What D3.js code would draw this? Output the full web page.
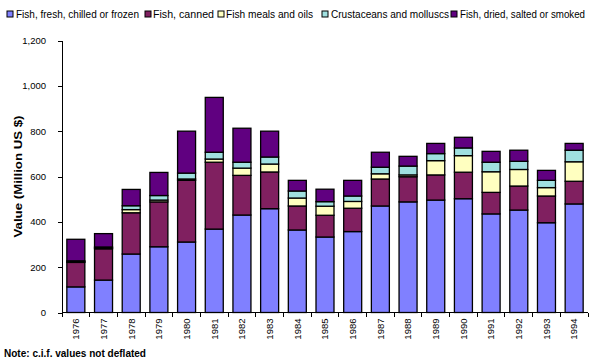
<!DOCTYPE html>
<html>
<head>
<meta charset="utf-8">
<script src="https://cdn.jsdelivr.net/npm/d3@7"></script>
<style>
  body { margin: 0; background: #fff; }
  svg { display: block; }
  text { font-family: "Liberation Sans", Arial, sans-serif; fill: #000; }
  .axis path, .axis line { stroke: #000; shape-rendering: crispEdges; }
</style>
</head>
<body>
<div id="chart"></div>
<script>
// values in million US $
var years = ["1976","1977","1978","1979","1980","1981","1982","1983","1984","1985",
             "1986","1987","1988","1989","1990","1991","1992","1993","1994"];
var fresh  = [113,143,258,290,311,368,430,458,364,333,357,470,488,496,502,435,452,396,479];
var canned = [108,138,182,198,272,295,175,162,106,96,103,119,111,111,117,95,106,118,100];
var meals  = [3,4,14,8,6,14,32,35,35,40,30,23,8,63,73,91,73,37,86];
var crust  = [4,4,17,20,26,30,26,31,31,20,24,29,39,31,34,42,36,32,51];
var dried  = [95,59,72,102,185,242,150,114,47,55,69,66,43,45,47,48,49,44,30];

var seriesNames = ["Fish, fresh, chilled or frozen","Fish, canned","Fish meals and oils",
                   "Crustaceans and molluscs","Fish, dried, salted or smoked"];
var seriesColours = ["#8080ff","#802060","#ffffc0","#a0e0e0","#600080"];
var yTicks = [0,200,400,600,800,1000,1200];

var width = 592, height = 361;
var plot = {left: 62, right: 588, top: 40.5, bottom: 312.5};

var svg = d3.select("#chart").append("svg")
  .attr("width", width)
  .attr("height", height);

// build rows for the stack
var keys = ["fresh","canned","meals","crust","dried"];
var rows = years.map(function(y, i) {
  return {year: y, fresh: fresh[i], canned: canned[i], meals: meals[i], crust: crust[i], dried: dried[i]};
});
var stacked = d3.stack().keys(keys)(rows);

var x = d3.scaleBand()
  .domain(years)
  .range([plot.left, plot.right])
  .paddingInner(0.35)
  .paddingOuter(0.175);

var y = d3.scaleLinear()
  .domain([0, 1200])
  .range([plot.bottom, plot.top]);

// y axis
var yAxis = svg.append("g")
  .attr("class", "axis")
  .attr("transform", "translate(" + plot.left + ",0)")
  .call(d3.axisLeft(y).tickValues(yTicks).tickSizeInner(4).tickSizeOuter(0).tickPadding(12).tickFormat(d3.format(",")));
yAxis.selectAll("text").style("font-size", "9.5px");

// bars
svg.append("g").selectAll("g.series")
  .data(stacked)
  .enter()
  .append("g")
  .attr("class", "series")
  .attr("fill", function(d, i) { return seriesColours[i]; })
  .selectAll("rect")
  .data(function(d) { return d; })
  .enter()
  .append("rect")
  .attr("x", function(d) { return x(d.data.year); })
  .attr("y", function(d) { return y(d[1]); })
  .attr("width", x.bandwidth())
  .attr("height", function(d) { return y(d[0]) - y(d[1]); })
  .attr("stroke", "#000")
  .attr("stroke-width", 1.3);

// x axis: line and ticks between categories
var step = x.step();
var xg = svg.append("g").attr("class", "axis");
xg.append("line")
  .attr("x1", plot.left).attr("x2", plot.right)
  .attr("y1", plot.bottom).attr("y2", plot.bottom);
xg.selectAll("line.tick")
  .data(d3.range(years.length + 1))
  .enter()
  .append("line")
  .attr("class", "tick")
  .attr("x1", function(i) { return plot.left + i * step; })
  .attr("x2", function(i) { return plot.left + i * step; })
  .attr("y1", plot.bottom)
  .attr("y2", plot.bottom + 4);

xg.selectAll("text")
  .data(years)
  .enter()
  .append("text")
  .attr("transform", function(d) {
    return "translate(" + (x(d) + x.bandwidth() / 2) + "," + (plot.bottom + 6) + ") rotate(-90)";
  })
  .attr("dy", "0.35em")
  .attr("text-anchor", "end")
  .style("font-size", "9.5px")
  .text(function(d) { return d; });

// y axis title
svg.append("text")
  .attr("transform", "translate(18," + ((plot.top + plot.bottom) / 2) + ") rotate(-90)")
  .attr("text-anchor", "middle")
  .attr("dy", "0.35em")
  .attr("textLength", 122)
  .attr("lengthAdjust", "spacingAndGlyphs")
  .style("font-size", "10px")
  .style("font-weight", "bold")
  .text("Value (Million US $)");

// legend
var legendBox = [7, 145, 218, 322, 451];
var legendText = [16, 153, 226, 331, 460];
var legendWidth = [123, 61, 87, 118, 125];

var leg = svg.append("g").selectAll("g")
  .data(seriesNames)
  .enter()
  .append("g");

leg.append("rect")
  .attr("x", function(d, i) { return legendBox[i]; })
  .attr("y", 11)
  .attr("width", 6)
  .attr("height", 6)
  .attr("fill", function(d, i) { return seriesColours[i]; })
  .attr("stroke", "#000")
  .attr("stroke-width", 1);

leg.append("text")
  .attr("x", function(d, i) { return legendText[i]; })
  .attr("y", 14)
  .attr("dy", "0.35em")
  .attr("textLength", function(d, i) { return legendWidth[i]; })
  .attr("lengthAdjust", "spacingAndGlyphs")
  .style("font-size", "10px")
  .text(function(d) { return d; });

// footnote
svg.append("text")
  .attr("x", 4)
  .attr("y", 357)
  .attr("textLength", 142)
  .attr("lengthAdjust", "spacingAndGlyphs")
  .style("font-size", "10px")
  .style("font-weight", "bold")
  .text("Note: c.i.f. values not deflated");
</script>
</body>
</html>
